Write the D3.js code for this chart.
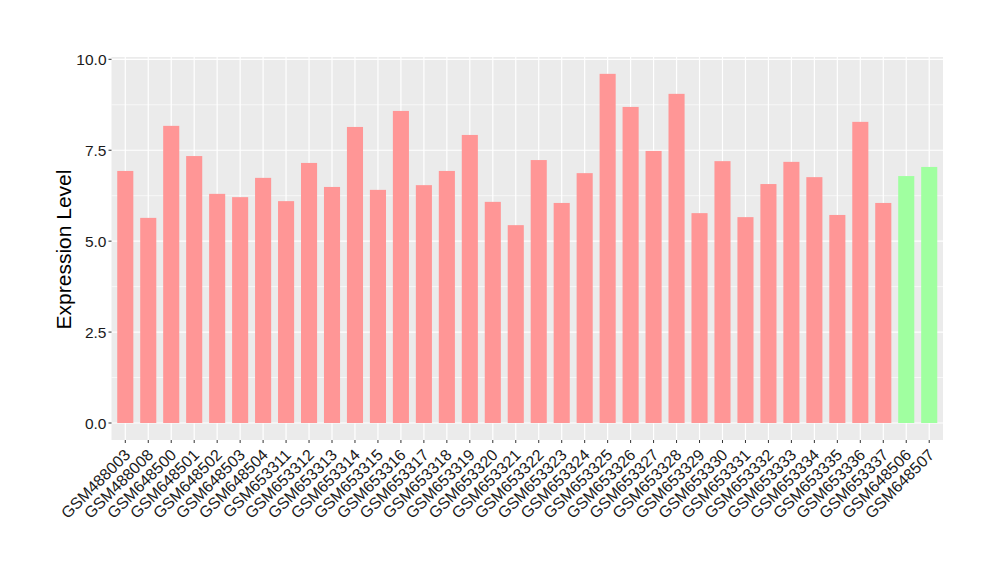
<!DOCTYPE html>
<html><head><meta charset="utf-8">
<script src="https://cdn.jsdelivr.net/npm/d3@7"></script>
<style>body{margin:0;background:#fff}</style>
</head><body><svg id="c" width="1000" height="580"></svg>
<script>
const categories = ["GSM488003","GSM488008","GSM648500","GSM648501","GSM648502","GSM648503","GSM648504","GSM653311","GSM653312","GSM653313","GSM653314","GSM653315","GSM653316","GSM653317","GSM653318","GSM653319","GSM653320","GSM653321","GSM653322","GSM653323","GSM653324","GSM653325","GSM653326","GSM653327","GSM653328","GSM653329","GSM653330","GSM653331","GSM653332","GSM653333","GSM653334","GSM653335","GSM653336","GSM653337","GSM648506","GSM648507"];
const values = [6.93,5.64,8.17,7.34,6.30,6.21,6.74,6.10,7.15,6.49,8.14,6.41,8.58,6.54,6.93,7.92,6.08,5.44,7.23,6.05,6.87,9.60,8.69,7.48,9.05,5.77,7.20,5.66,6.57,7.18,6.76,5.72,8.28,6.05,6.79,7.04];
const groups = ["a","a","a","a","a","a","a","a","a","a","a","a","a","a","a","a","a","a","a","a","a","a","a","a","a","a","a","a","a","a","a","a","a","a","b","b"];
const yTicks = [0, 2.5, 5, 7.5, 10];
const yTickLabels = ["0.0","2.5","5.0","7.5","10.0"];
const yMinor = [1.25, 3.75, 6.25, 8.75];

const svg = d3.select("#c");
const L = 111.5, R = 943, T = 57, B = 440;
const font = "'Liberation Sans', Arial, Helvetica, sans-serif";

const n = categories.length;
const x = d3.scaleLinear().domain([0.4, n + 0.6]).range([L, R]);
const y = d3.scaleLinear().domain([0, 10]).range([423, 59.3]);
const color = d3.scaleOrdinal().domain(["a","b"]).range(["#ff9696","#a0ffa0"]);

svg.append("rect").attr("x", L).attr("y", T).attr("width", R - L).attr("height", B - T).attr("fill", "#ebebeb");

const g = svg.append("g");
yMinor.forEach(v => g.append("line").attr("x1", L).attr("x2", R).attr("y1", y(v)).attr("y2", y(v)).attr("stroke", "#fff").attr("stroke-width", 0.6));
yTicks.forEach(v => g.append("line").attr("x1", L).attr("x2", R).attr("y1", y(v)).attr("y2", y(v)).attr("stroke", "#fff").attr("stroke-width", 1.2));
categories.forEach((c, i) => g.append("line").attr("x1", x(i + 1)).attr("x2", x(i + 1)).attr("y1", T).attr("y2", B).attr("stroke", "#fff").attr("stroke-width", 1.2));

const bw = (x(1.35) - x(1));
svg.selectAll("rect.bar").data(values).join("rect").attr("class", "bar")
  .attr("x", (d, i) => x(i + 1) - bw)
  .attr("width", bw * 2)
  .attr("y", d => y(d))
  .attr("height", d => y(0) - y(d))
  .attr("fill", (d, i) => color(groups[i]));

// y axis
yTicks.forEach((v, i) => {
  svg.append("line").attr("x1", L - 3).attr("x2", L).attr("y1", y(v)).attr("y2", y(v)).attr("stroke", "#333").attr("stroke-width", 1);
  svg.append("text").attr("x", L - 5).attr("y", y(v)).attr("dy", "0.36em").attr("text-anchor", "end")
    .attr("font-family", font).attr("font-size", 15.5).attr("fill", "#1a1a1a").text(yTickLabels[i]);
});
// x axis
categories.forEach((c, i) => {
  const cx = x(i + 1);
  svg.append("line").attr("x1", cx).attr("x2", cx).attr("y1", B).attr("y2", B + 3).attr("stroke", "#333").attr("stroke-width", 1);
  svg.append("text").attr("transform", `translate(${cx + 6},${B + 16}) rotate(-45)`)
    .attr("text-anchor", "end")
    .attr("font-family", font).attr("font-size", 16).attr("fill", "#1a1a1a").text(c);
});

svg.append("text").attr("transform", `translate(71,${(T + B) / 2 + 1}) rotate(-90)`)
  .attr("text-anchor", "middle").attr("font-family", font).attr("font-size", 21).attr("fill", "#000").text("Expression Level");
</script></body></html>
